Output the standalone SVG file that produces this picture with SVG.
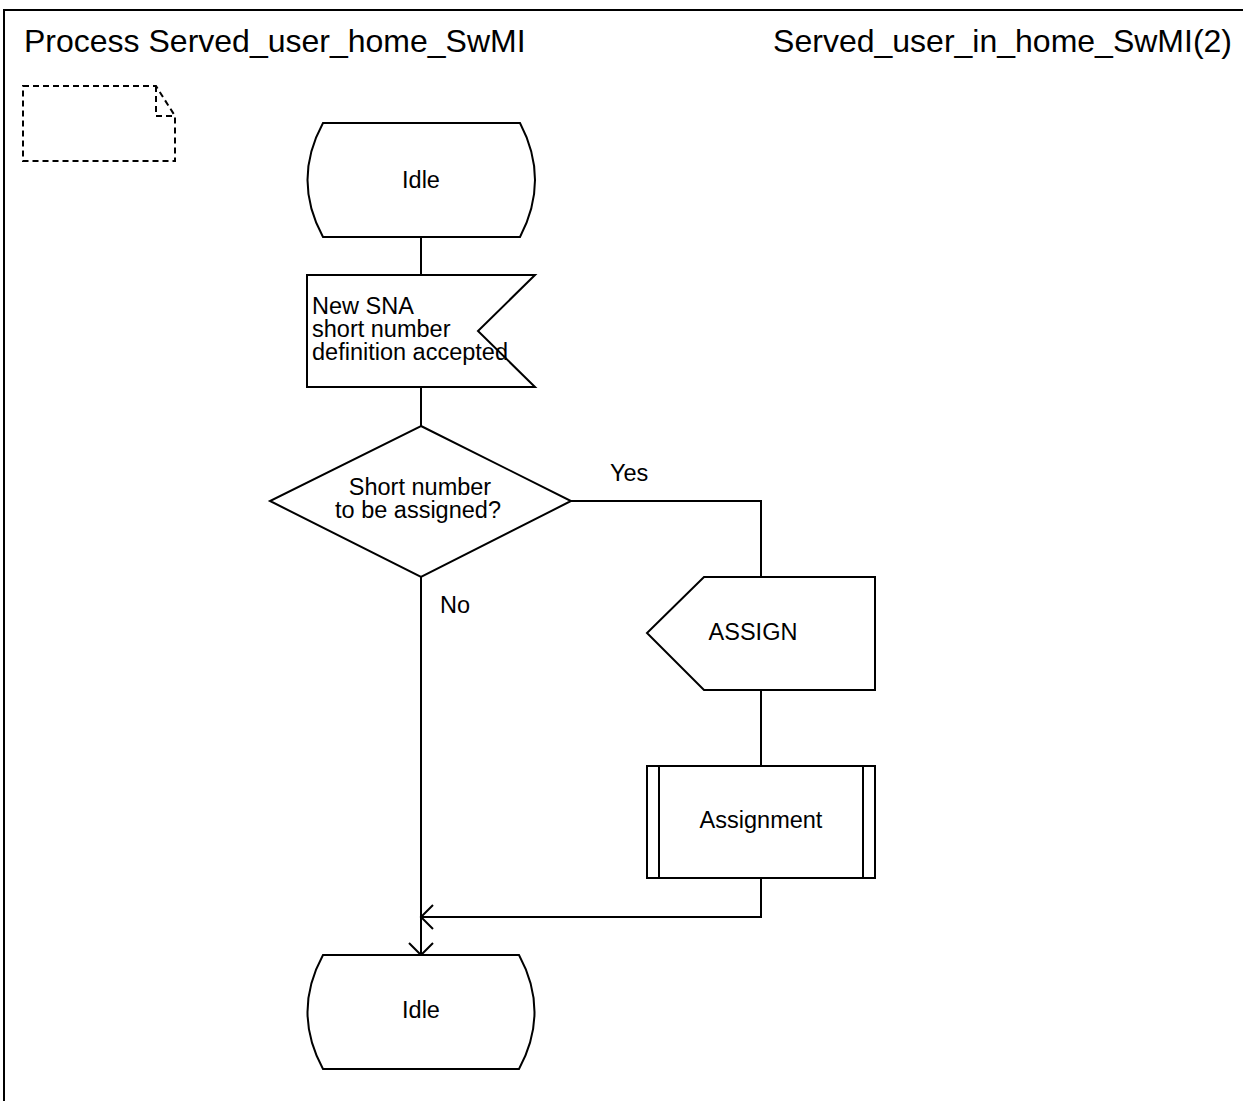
<svg xmlns="http://www.w3.org/2000/svg" width="1243" height="1101" viewBox="0 0 1243 1101">
<defs>
<style>
.s{fill:#fff;stroke:#000;stroke-width:2}
.l{fill:none;stroke:#000;stroke-width:2}
.t{font-family:"Liberation Sans",Arial,sans-serif;font-size:23.5px;fill:#000}
.h{font-family:"Liberation Sans",Arial,sans-serif;font-size:32px;fill:#000}
</style>
<marker id="ah" markerWidth="16" markerHeight="28" refX="14" refY="14" orient="auto" markerUnits="userSpaceOnUse">
<path d="M2,2 L14,14 L2,26" fill="none" stroke="#000" stroke-width="2"/>
</marker>
</defs>
<rect width="1243" height="1101" fill="#fff"/>
<g id="frame">
<path class="l" d="M4,1101 L4,10 L1243,10"/>
<text class="h" x="24" y="52">Process Served_user_home_SwMI</text>
<text class="h" x="1232" y="52" text-anchor="end">Served_user_in_home_SwMI(2)</text>
</g>
<g id="comment">
<path d="M23,86 L156,86 L175,116 L175,161 L23,161 Z M156,86 L156,116 L175,116" fill="none" stroke="#000" stroke-width="2" stroke-dasharray="6,4"/>
</g>
<g id="connectors">
<path class="l" d="M421,237 L421,275"/>
<path class="l" d="M421,387 L421,426"/>
<path class="l" d="M571,501 L761,501 L761,577"/>
<path class="l" d="M761,690 L761,766"/>
<path class="l" d="M761,878 L761,917 L421,917" marker-end="url(#ah)"/>
<path class="l" d="M421,577 L421,955" marker-end="url(#ah)"/>
<text class="t" x="610" y="481">Yes</text>
<text class="t" x="440" y="613">No</text>
</g>
<g id="idle1">
<path class="s" d="M323,123 L520,123 Q550,180 520,237 L323,237 Q292,180 323,123 Z"/>
<text class="t" x="421" y="188" text-anchor="middle">Idle</text>
</g>
<g id="input">
<path class="s" d="M307,275 L535,275 L478,331 L535,387 L307,387 Z"/>
<text class="t" x="312" y="314">New SNA</text>
<text class="t" x="312" y="337">short number</text>
<text class="t" x="312" y="360">definition accepted</text>
</g>
<g id="decision">
<path class="s" d="M421,426 L571,501 L421,577 L270,501 Z"/>
<text class="t" x="420" y="495" text-anchor="middle">Short number</text>
<text class="t" x="418" y="518" text-anchor="middle">to be assigned?</text>
</g>
<g id="output">
<path class="s" d="M704,577 L875,577 L875,690 L704,690 L647,633 Z"/>
<text class="t" x="753" y="640" text-anchor="middle">ASSIGN</text>
</g>
<g id="procedure">
<rect class="s" x="647" y="766" width="228" height="112"/>
<path class="l" d="M659,766 L659,878 M863,766 L863,878"/>
<text class="t" x="761" y="828" text-anchor="middle">Assignment</text>
</g>
<g id="idle2">
<path class="s" d="M323,955 L519,955 Q550,1012 519,1069 L323,1069 Q292,1012 323,955 Z"/>
<text class="t" x="421" y="1018" text-anchor="middle">Idle</text>
</g>
</svg>
